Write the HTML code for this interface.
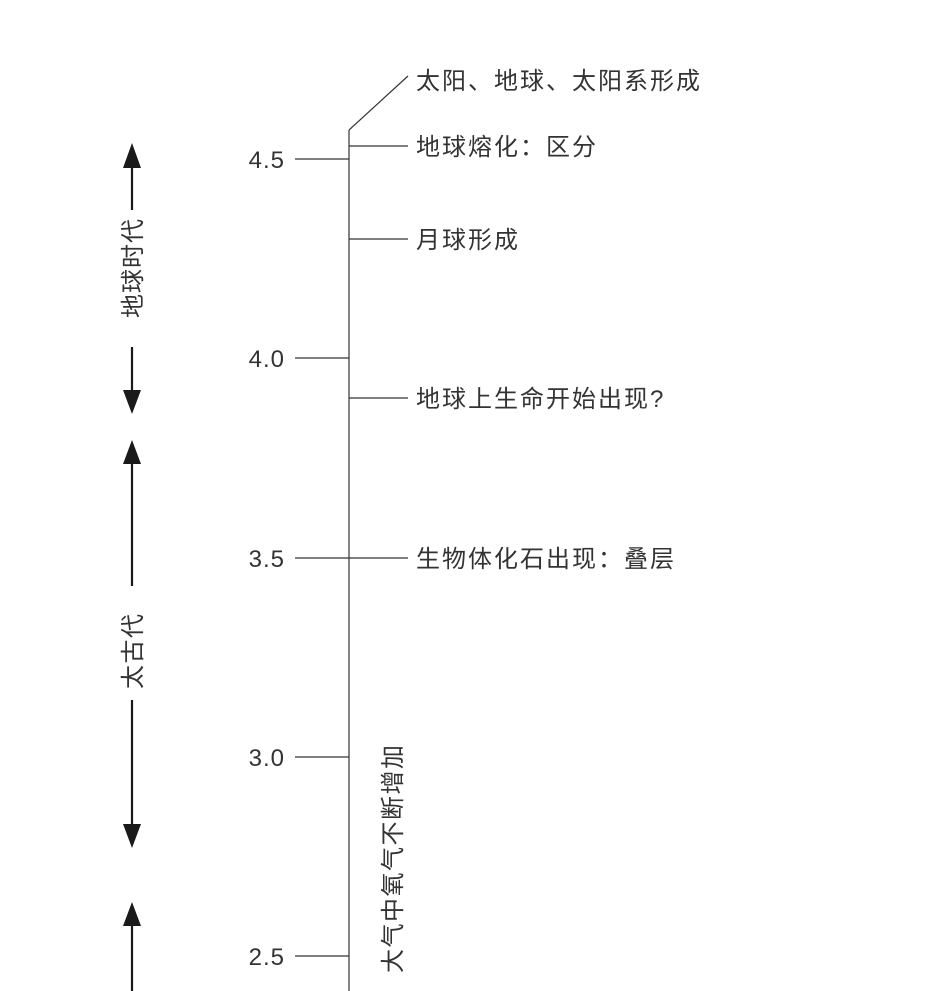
<!DOCTYPE html>
<html><head><meta charset="utf-8"><style>
html,body{margin:0;padding:0;background:#fff;}
svg{display:block;}
text{font-family:"Liberation Sans","Noto Sans CJK SC",sans-serif;fill:#333;}
</style></head><body>
<svg width="940" height="991" viewBox="0 0 940 991" xmlns="http://www.w3.org/2000/svg">
<g stroke="#333" stroke-width="1.2" fill="none">
<line x1="349" y1="130" x2="349" y2="991"/>
<line x1="349" y1="130" x2="408" y2="76"/>
<line x1="295" y1="159" x2="349" y2="159"/>
<line x1="295" y1="358" x2="349" y2="358"/>
<line x1="295" y1="558" x2="349" y2="558"/>
<line x1="295" y1="757" x2="349" y2="757"/>
<line x1="295" y1="956" x2="349" y2="956"/>
<line x1="349" y1="146" x2="408" y2="146"/>
<line x1="349" y1="239" x2="408" y2="239"/>
<line x1="349" y1="398" x2="408" y2="398"/>
<line x1="349" y1="558" x2="408" y2="558"/>
</g>
<g stroke="#1a1a1a" stroke-width="2.2">
<line x1="132" y1="165" x2="132" y2="210"/>
<line x1="132" y1="347" x2="132" y2="392"/>
<line x1="132" y1="460" x2="132" y2="586"/>
<line x1="132" y1="700" x2="132" y2="828"/>
<line x1="132" y1="922" x2="132" y2="991"/>
</g>
<g fill="#1a1a1a">
<polygon points="132,143 123,168 141,168"/>
<polygon points="132,414 123,390 141,390"/>
<polygon points="132,440 123,464 141,464"/>
<polygon points="132,848 123,824 141,824"/>
<polygon points="132,902 123,926 141,926"/>
</g>
<g font-size="24" text-anchor="end" letter-spacing="1">
<text x="285" y="168">4.5</text>
<text x="285" y="367">4.0</text>
<text x="285" y="567">3.5</text>
<text x="285" y="766">3.0</text>
<text x="285" y="965">2.5</text>
</g>
<g font-size="24" letter-spacing="2">
<text x="416" y="89">太阳、地球、太阳系形成</text>
<text x="416" y="155">地球熔化：区分</text>
<text x="416" y="248">月球形成</text>
<text x="416" y="407">地球上生命开始出现?</text>
<text x="416" y="567">生物体化石出现：叠层</text>
</g>
<g font-size="24">
<text transform="translate(141,318) rotate(-90)" letter-spacing="1">地球时代</text>
<text transform="translate(141,689) rotate(-90)" letter-spacing="1.5">太古代</text>
<text transform="translate(401,973) rotate(-90)" letter-spacing="1.5">大气中氧气不断增加</text>
</g>
</svg>
</body></html>
